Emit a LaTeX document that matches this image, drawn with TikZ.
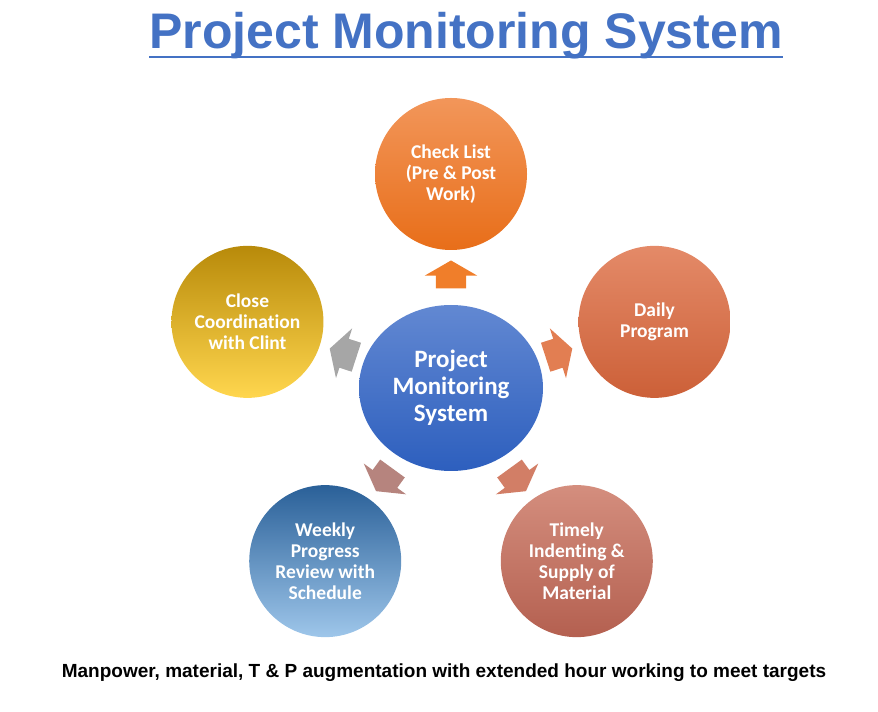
\documentclass[tikz,border=0pt]{standalone}
\usepackage{fontspec}
\setmainfont{Carlito}[Ligatures=NoCommon]
\newfontfamily\headfont{Liberation Sans}
\usetikzlibrary{positioning}
\usetikzlibrary{calc}
\usetikzlibrary{shapes.geometric}
\usetikzlibrary{shapes.arrows}

\definecolor{titleblue}{RGB}{68,114,196}
\definecolor{hubtop}{RGB}{98,136,210}
\definecolor{hubbot}{RGB}{45,95,190}
\definecolor{checktop}{RGB}{242,150,90}
\definecolor{checkbot}{RGB}{232,110,25}
\definecolor{dailytop}{RGB}{228,138,104}
\definecolor{dailybot}{RGB}{204,96,56}
\definecolor{timelytop}{RGB}{212,142,126}
\definecolor{timelybot}{RGB}{180,96,80}
\definecolor{weeklytop}{RGB}{42,96,152}
\definecolor{weeklybot}{RGB}{158,198,234}
\definecolor{closetop}{RGB}{184,138,10}
\definecolor{closebot}{RGB}{255,214,78}

\begin{document}
\begin{tikzpicture}[x=1pt, y=1pt,
    stage/.style={circle, minimum size=152pt, inner sep=0pt, align=center, text=white, font=\bfseries\fontsize{19.5}{21}\selectfont},
    push/.style={single arrow, single arrow tip angle=120, single arrow head extend=11pt, minimum height=28pt, inner xsep=0pt, inner ysep=15pt}]
    \useasboundingbox (0,0) rectangle (878,712);

    \node (title) [anchor=base, inner sep=0pt, text=titleblue, font=\headfont\bfseries\fontsize{50}{60}\selectfont] at (466,663) {Project Monitoring System};
    \draw [titleblue, line width=2.5pt] ([yshift=-8pt]title.base west) -- ([yshift=-8pt]title.base east);

    \node (hub) [ellipse, minimum width=184pt, minimum height=166pt, inner sep=0pt, top color=hubtop, bottom color=hubbot, text=white, align=center, font=\bfseries\fontsize{25}{27}\selectfont] at (451,324) {Project\\Monitoring\\System};

    \node (check) [stage, top color=checktop, bottom color=checkbot] at ($(hub)+(90:214)$) {Check List\\(Pre \& Post\\Work)};
    \node (daily) [stage, top color=dailytop, bottom color=dailybot] at ($(hub)+(18:214)$) {Daily\\Program};
    \node (timely) [stage, top color=timelytop, bottom color=timelybot] at ($(hub)+(-54:214)$) {Timely\\Indenting \&\\Supply of\\Material};
    \node (weekly) [stage, top color=weeklytop, bottom color=weeklybot] at ($(hub)+(-126:214)$) {Weekly\\Progress\\Review with\\Schedule};
    \node (close) [stage, top color=closetop, bottom color=closebot] at ($(hub)+(162:214)$) {Close\\Coordination\\with Clint};

    \node (tocheck) [push, fill={rgb,255:red,240;green,126;blue,42}, rotate=90] at ($(hub)!0.51!(check)$) {};
    \node (todaily) [push, fill={rgb,255:red,226;green,126;blue,82}, rotate=18] at ($(hub)!0.51!(daily)$) {};
    \node (totimely) [push, fill={rgb,255:red,210;green,126;blue,102}, rotate=-54] at ($(hub)!0.51!(timely)$) {};
    \node (toweekly) [push, fill={rgb,255:red,182;green,132;blue,126}, rotate=-126] at ($(hub)!0.51!(weekly)$) {};
    \node (toclose) [push, fill={rgb,255:red,166;green,166;blue,166}, rotate=162] at ($(hub)!0.51!(close)$) {};

    \node (footer) [font=\headfont\bfseries\fontsize{19}{22}\selectfont] at (444,39) {Manpower, material, T \& P augmentation with extended hour working to meet targets};
\end{tikzpicture}
\end{document}
